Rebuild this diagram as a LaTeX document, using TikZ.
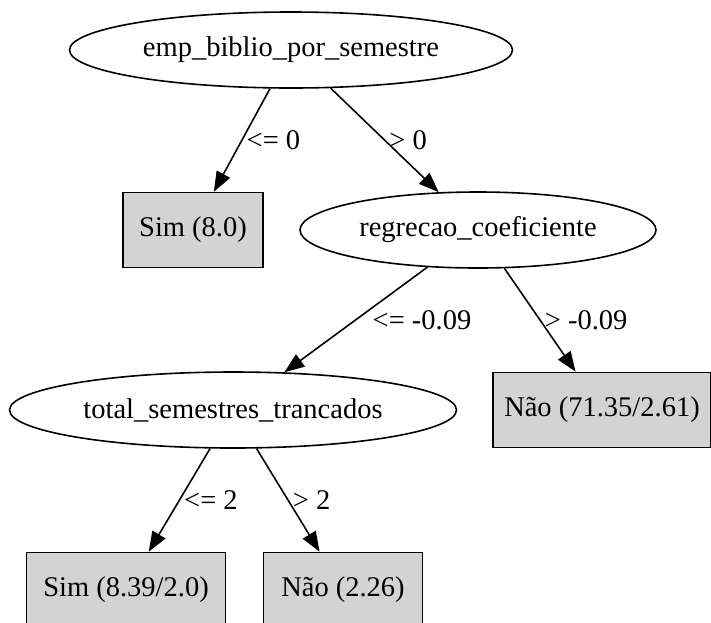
\documentclass[tikz,border=0pt]{standalone}
\usepackage{fontspec}
\setmainfont{Liberation Serif}
\usetikzlibrary{shapes.geometric,arrows.meta}
\definecolor{leafgray}{RGB}{211,211,211}
\tikzset{attr/.style={ellipse,draw,line width=1.6pt,minimum height=76pt,inner sep=0pt},
  leaf/.style={rectangle,draw,fill=leafgray,line width=1.6pt,minimum height=75pt,inner sep=0pt},
  cond/.style={right,inner sep=4pt},
  ramo/.style={line width=1.6pt,-{Triangle[length=20pt,width=15pt]}}}

\begin{document}
\begin{tikzpicture}[x=1pt,y=-1pt,font=\fontsize{28.5}{32}\selectfont]
  \useasboundingbox (0,0) rectangle (711,622);
  % atributos
  \node[attr,minimum width=443pt] (emp) at (291,50) {emp\_biblio\_por\_semestre};
  \node[attr,minimum width=356pt] (reg) at (478,230) {regrecao\_coeficiente};
  \node[attr,minimum width=447pt] (tot) at (233,410) {total\_semestres\_trancados};
  % folhas
  \node[leaf,minimum width=140pt] (sim1) at (193,230) {Sim (8.0)};
  \node[leaf,minimum width=218pt] (nao1) at (602,410) {Não (71.35/2.61)};
  \node[leaf,minimum width=199pt] (sim2) at (126,590) {Sim (8.39/2.0)};
  \node[leaf,minimum width=159pt] (nao2) at (343,590) {Não (2.26)};
  \path[ramo]
  (emp) edge node[cond] {<= 0} (sim1)
        edge node[cond] {> 0} (reg)
  (reg) edge node[cond,xshift=12pt] {<= -0.09} (tot)
        edge node[cond] {> -0.09} (nao1)
  (tot) edge node[cond] {<= 2} (sim2)
        edge node[cond] {> 2} (nao2);
\end{tikzpicture}
\end{document}
